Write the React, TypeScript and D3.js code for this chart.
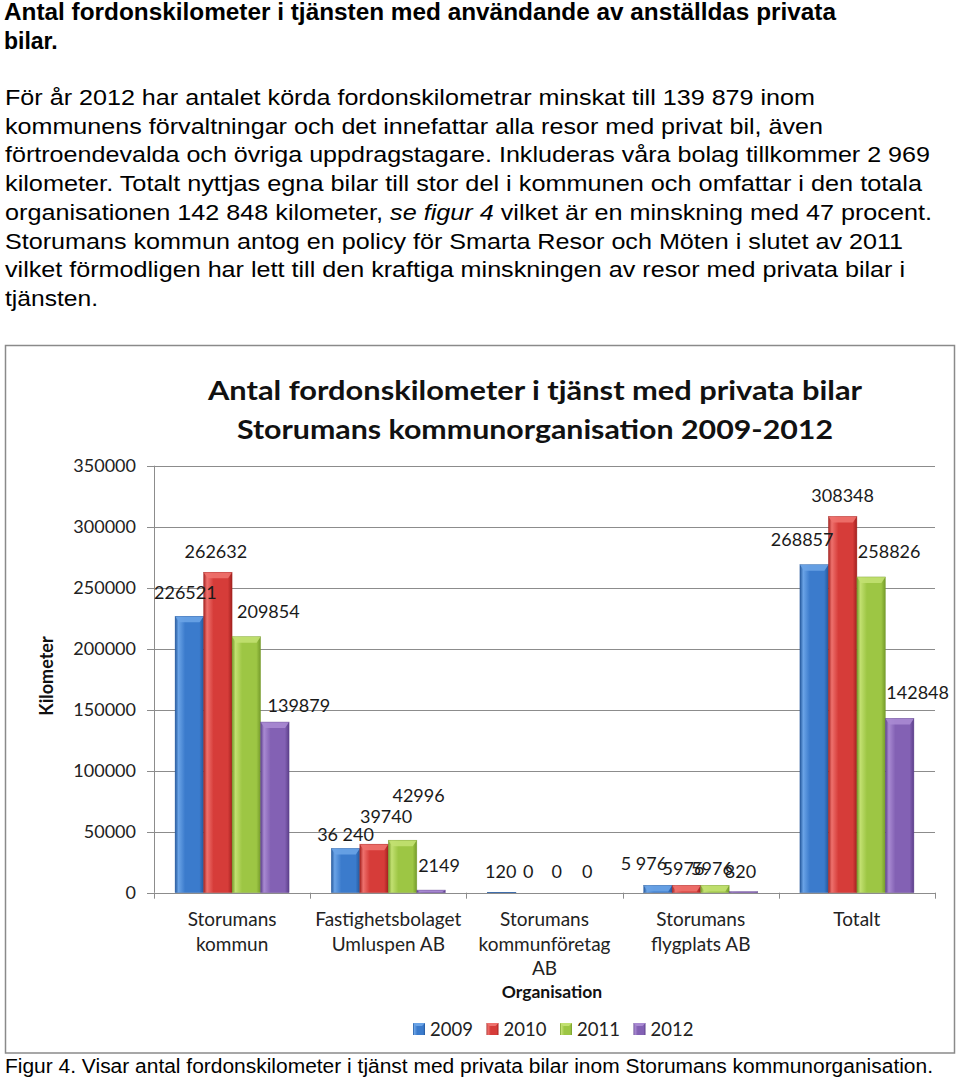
import React from "react";
import * as d3 from "d3";

// ---------- data ----------
const categoryLines: string[][] = [
  ["Storumans", "kommun"],
  ["Fastighetsbolaget", "Umluspen AB"],
  ["Storumans", "kommunföretag", "AB"],
  ["Storumans", "flygplats AB"],
  ["Totalt"],
];
const years = ["2009", "2010", "2011", "2012"];
const values2009 = [226521, 36240, 120, 5976, 268857];
const values2010 = [262632, 39740, 0, 5976, 308348];
const values2011 = [209854, 42996, 0, 5976, 258826];
const values2012 = [139879, 2149, 0, 820, 142848];
const labels2009 = ["226521", "36 240", "120", "5 976", "268857"];
const labels2010 = ["262632", "39740", "0", "5976", "308348"];
const labels2011 = ["209854", "42996", "0", "5976", "258826"];
const labels2012 = ["139879", "2149", "0", "820", "142848"];
const yTicks = [0, 50000, 100000, 150000, 200000, 250000, 300000, 350000];

const series = [values2009, values2010, values2011, values2012];
const seriesLabels = [labels2009, labels2010, labels2011, labels2012];

// ---------- text ----------
const headLines = [
  "Antal fordonskilometer i tjänsten med användande av anställdas privata",
  "bilar.",
];
const bodyLines = [
  "För år 2012 har antalet körda fordonskilometrar minskat till 139 879 inom",
  "kommunens förvaltningar och det innefattar alla resor med privat bil, även",
  "förtroendevalda och övriga uppdragstagare. Inkluderas våra bolag tillkommer 2 969",
  "kilometer. Totalt nyttjas egna bilar till stor del i kommunen och omfattar i den totala",
  "__LINE5__",
  "Storumans kommun antog en policy för Smarta Resor och Möten i slutet av 2011",
  "vilket förmodligen har lett till den kraftiga minskningen av resor med privata bilar i",
  "tjänsten.",
];
const caption =
  "Figur 4. Visar antal fordonskilometer i tjänst med privata bilar inom Storumans kommunorganisation.";

// ---------- layout / style ----------
const bodyWidths = [810, 818, 925, 917, 927, 898, 900, 93];
const colors = [
  { base: "#3b7bcc", light: "#6aa3e6", dark: "#24589c" },
  { base: "#d63c39", light: "#ee716d", dark: "#a3211f" },
  { base: "#9dc644", light: "#c2e071", dark: "#759b2a" },
  { base: "#8361b4", light: "#a98ad2", dark: "#5c3f8a" },
];
// label nudges [dx, dy from bar top] per series / category
const nudge: number[][][] = [
  [[-4, -17], [0, -7], [-1, -15], [-14, -15], [-12, -19]],
  [[-2, -14], [12, -21], [-2, -15], [-3, -10], [0, -15]],
  [[22, -19], [16, -38], [-2, -15], [-3, -10], [18, -19]],
  [[24, -10], [8, -18], [0, -15], [-3, -14], [18, -19]],
];

const chartFont = "Lato, 'Open Sans', sans-serif";
const docFont = "'Liberation Sans', Arial, sans-serif";

export default function App() {
  const W = 960;
  const H = 1081;
  const x0 = d3
    .scaleBand<number>()
    .domain(d3.range(categoryLines.length))
    .range([154, 935])
    .paddingInner(0)
    .paddingOuter(0);
  const x1 = d3
    .scaleBand<number>()
    .domain(d3.range(years.length))
    .range([0, x0.bandwidth()])
    .paddingInner(0)
    .paddingOuter(0.74);
  const y = d3.scaleLinear().domain([0, 350000]).range([892.7, 465.7]);
  const bw = x1.bandwidth();

  return (
    <svg
      width={W}
      height={H}
      viewBox={`0 0 ${W} ${H}`}
      style={{ position: "absolute", left: 0, top: 0, background: "#fff" }}
    >
      <defs>
        {colors.map((c, i) => (
          <linearGradient key={i} id={`g${i}`} x1="0" x2="1" y1="0" y2="0">
            <stop offset="0" stopColor={c.dark} />
            <stop offset="0.12" stopColor={c.light} />
            <stop offset="0.35" stopColor={c.base} />
            <stop offset="0.85" stopColor={c.base} />
            <stop offset="1" stopColor={c.dark} />
          </linearGradient>
        ))}
      </defs>
      <rect x={0} y={0} width={W} height={H} fill="#fff" />

      {/* document heading */}
      {headLines.map((t, i) => (
        <text
          key={i}
          x={4}
          y={20 + i * 28.5}
          fontFamily={docFont}
          fontWeight="bold"
          fontSize={23}
          fill="#000"
          {...(i === 0 ? { textLength: 832, lengthAdjust: "spacingAndGlyphs" } : {})}
        >
          {t}
        </text>
      ))}

      {/* body paragraph */}
      {bodyLines.map((t, i) => (
        <text
          key={i}
          x={5}
          y={105 + i * 28.7}
          fontFamily={docFont}
          fontSize={22}
          fill="#000"
          textLength={bodyWidths[i]}
          lengthAdjust="spacingAndGlyphs"
        >
          {t === "__LINE5__" ? (
            <>
              <tspan>organisationen 142 848 kilometer, </tspan>
              <tspan fontStyle="italic">se figur 4</tspan>
              <tspan> vilket är en minskning med 47 procent.</tspan>
            </>
          ) : (
            t
          )}
        </text>
      ))}

      {/* chart frame */}
      <rect x={5.5} y={345.5} width={949} height={707.5} fill="#fff" stroke="#8a8a8a" strokeWidth={1.5} />

      {/* chart title */}
      <text x={535} y={400} textAnchor="middle" fontFamily={chartFont} fontWeight="bold" fontSize={26} fill="#111"
        textLength={654} lengthAdjust="spacingAndGlyphs">
        Antal fordonskilometer i tjänst med privata bilar
      </text>
      <text x={535} y={439} textAnchor="middle" fontFamily={chartFont} fontWeight="bold" fontSize={26} fill="#111"
        textLength={596} lengthAdjust="spacingAndGlyphs">
        Storumans kommunorganisation 2009-2012
      </text>

      {/* gridlines and y ticks */}
      {yTicks.map((t) => (
        <g key={t}>
          <line x1={147} x2={935} y1={Math.round(y(t)) + 0.5} y2={Math.round(y(t)) + 0.5} stroke="#8c8c8c" strokeWidth={1} />
          <text x={136} y={y(t)} dy="0.36em" textAnchor="end" fontFamily={chartFont} fontSize={18} fill="#222">
            {t}
          </text>
        </g>
      ))}
      {/* y axis */}
      <line x1={154.5} x2={154.5} y1={y(350000)} y2={y(0)} stroke="#8c8c8c" />
      {/* x category ticks */}
      {d3.range(categoryLines.length + 1).map((i) => {
        const xx = i < categoryLines.length ? x0(i)! : x0.range()[1];
        return <line key={i} x1={Math.round(xx) + 0.5} x2={Math.round(xx) + 0.5} y1={y(0)} y2={y(0) + 6} stroke="#8c8c8c" />;
      })}

      {/* y axis title */}
      <text
        transform={`translate(53, 676) rotate(-90)`}
        textAnchor="middle"
        fontFamily={chartFont}
        fontWeight="bold"
        fontSize={18}
        fill="#111"
      >
        Kilometer
      </text>

      {/* bars */}
      {categoryLines.map((_, ci) =>
        series.map((vals, si) => {
          const v = vals[ci];
          if (v <= 0) return null;
          const bx = x0(ci)! + x1(si)!;
          const top = y(v);
          const h = y(0) - top;
          const bev = Math.min(6, h);
          const c = colors[si];
          return (
            <g key={`${ci}-${si}`}>
              <rect x={bx} y={top} width={bw} height={h} fill={`url(#g${si})`} />
              <polygon
                points={`${bx},${top} ${bx + bw},${top} ${bx + bw - 4},${top + bev} ${bx + 4},${top + bev}`}
                fill={c.light}
                opacity={0.9}
              />
              <rect x={bx} y={top} width={bw} height={h} fill="none" stroke={c.dark} strokeWidth={0.6} opacity={0.6} />
            </g>
          );
        })
      )}

      {/* data labels */}
      {categoryLines.map((_, ci) =>
        series.map((vals, si) => {
          const v = vals[ci];
          const cx = x0(ci)! + x1(si)! + bw / 2 + nudge[si][ci][0];
          const yy = y(v) + nudge[si][ci][1];
          return (
            <text key={`l${ci}-${si}`} x={cx} y={yy} textAnchor="middle" fontFamily={chartFont} fontSize={18} fill="#1a1a1a">
              {seriesLabels[si][ci]}
            </text>
          );
        })
      )}

      {/* category labels */}
      {categoryLines.map((lines, ci) =>
        lines.map((ln, li) => (
          <text
            key={`c${ci}-${li}`}
            x={x0(ci)! + x0.bandwidth() / 2}
            y={926 + li * 24.5}
            textAnchor="middle"
            fontFamily={chartFont}
            fontSize={19}
            fill="#222"
          >
            {ln}
          </text>
        ))
      )}
      <text x={552} y={998} textAnchor="middle" fontFamily={chartFont} fontWeight="bold" fontSize={17.5} fill="#111">
        Organisation
      </text>

      {/* legend */}
      {years.map((yr, i) => {
        const lx = 413 + i * 73.5;
        return (
          <g key={yr}>
            <rect x={lx} y={1023} width={12} height={12} fill={`url(#g${i})`} />
            <polygon points={`${lx},1023 ${lx + 12},1023 ${lx + 9},1026 ${lx + 3},1026`} fill={colors[i].light} />
            <text x={lx + 17} y={1036} fontFamily={chartFont} fontSize={18.5} fill="#222">
              {yr}
            </text>
          </g>
        );
      })}

      {/* caption */}
      <text x={5} y={1073} fontFamily={docFont} fontSize={20} fill="#000" textLength={928} lengthAdjust="spacingAndGlyphs">
        {caption}
      </text>
    </svg>
  );
}
